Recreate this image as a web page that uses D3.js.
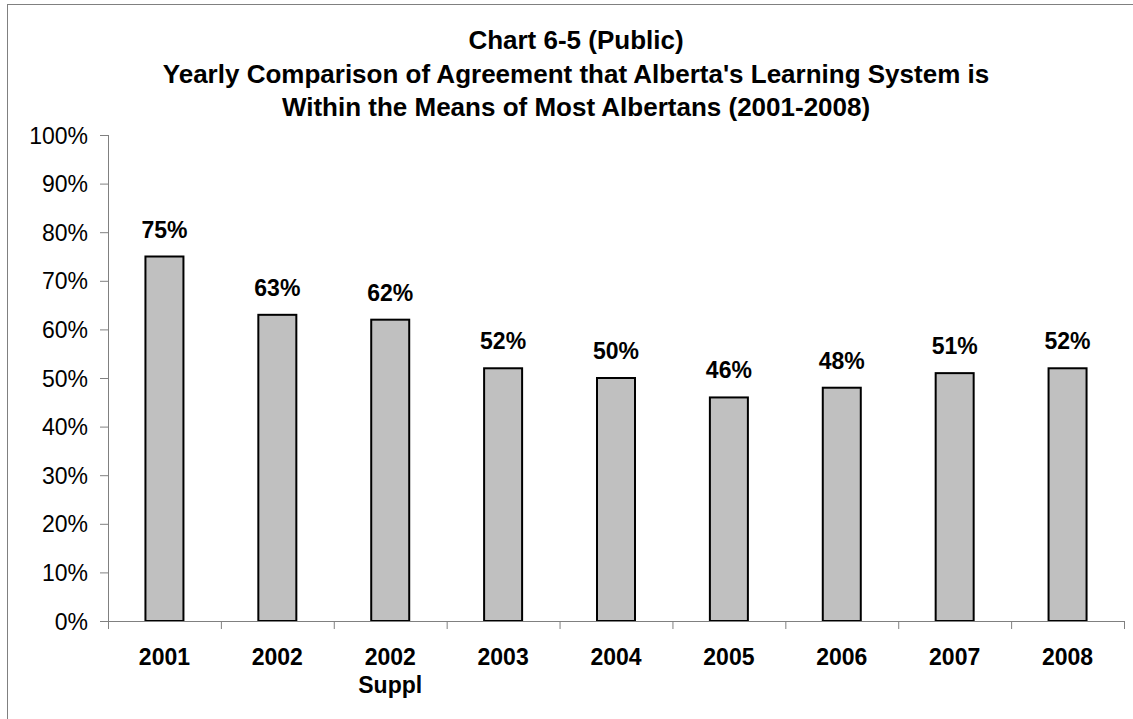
<!DOCTYPE html>
<html lang="en">
<head>
<meta charset="UTF-8">
<title>Chart 6-5 (Public)</title>
<script src="https://cdn.jsdelivr.net/npm/d3@7/dist/d3.min.js"></script>
<style>
  body { margin: 0; background: #fff; }
  svg { display: block; font-family: "Liberation Sans", Arial, sans-serif; }
</style>
</head>
<body>
<svg id="main" width="1133" height="719"></svg>
<script>
    // data
    const years = ["2001", "2002", "2002|Suppl", "2003", "2004", "2005", "2006", "2007", "2008"];
    const agree = [75, 63, 62, 52, 50, 46, 48, 51, 52];
    const yTicks = [0, 10, 20, 30, 40, 50, 60, 70, 80, 90, 100];
    const titleLines = [
        "Chart 6-5 (Public)",
        "Yearly Comparison of Agreement that Alberta's Learning System is",
        "Within the Means of Most Albertans (2001-2008)"
    ];

    const svg = d3.select("#main");
    const plotL = 108, plotR = 1124, plotT = 135, plotB = 621;

    // outer frame (runs off the right/bottom edge)
    svg.append("rect")
        .attr("x", 7.5).attr("y", 4.5)
        .attr("width", 1140).attr("height", 730)
        .attr("fill", "none").attr("stroke", "#808080").attr("stroke-width", 1);

    svg.append("g").selectAll("text")
        .data(titleLines)
        .join("text")
        .attr("x", 576)
        .attr("y", (d, i) => 49 + i * 33.5)
        .attr("text-anchor", "middle")
        .attr("font-size", 26)
        .attr("font-weight", "bold")
        .text(d => d);

    const x = d3.scaleBand().domain(years).range([plotL, plotR]).paddingInner(0).paddingOuter(0);
    const y = d3.scaleLinear().domain([0, 100]).range([plotB, plotT]);

    // y axis
    const yAxis = svg.append("g")
        .attr("transform", `translate(${plotL},0)`)
        .call(d3.axisLeft(y).tickValues(yTicks).tickSize(8).tickPadding(12).tickFormat(d => d + "%"));
    yAxis.select(".domain").attr("stroke", "#808080").attr("d", `M0.5,${plotT}V${plotB}`);
    yAxis.selectAll(".tick line").attr("stroke", "#808080");
    yAxis.selectAll(".tick text")
        .attr("font-size", 23).attr("font-family", "Liberation Sans, Arial, sans-serif")
        .attr("fill", "#000").attr("dy", "0.35em");

    // bars
    const bw = 38;
    svg.append("g").selectAll("rect")
        .data(agree)
        .join("rect")
        .attr("x", (d, i) => x(years[i]) + x.bandwidth() / 2 - bw / 2)
        .attr("y", d => y(d))
        .attr("width", bw)
        .attr("height", d => y(0) - y(d))
        .attr("fill", "#c0c0c0")
        .attr("stroke", "#000")
        .attr("stroke-width", 2);

    // value labels
    svg.append("g").selectAll("text")
        .data(agree)
        .join("text")
        .attr("x", (d, i) => x(years[i]) + x.bandwidth() / 2)
        .attr("y", d => y(d) - 19)
        .attr("text-anchor", "middle")
        .attr("font-size", 23)
        .attr("font-weight", "bold")
        .text(d => d + "%");

    // x axis line and category boundary ticks
    const xg = svg.append("g");
    xg.append("line")
        .attr("x1", plotL).attr("x2", plotR)
        .attr("y1", plotB + 0.5).attr("y2", plotB + 0.5)
        .attr("stroke", "#808080");
    xg.selectAll(".xt")
        .data(years.concat(["end"]))
        .join("line")
        .attr("class", "xt")
        .attr("x1", (d, i) => (i < years.length ? x(d) : plotR) + 0.5)
        .attr("x2", (d, i) => (i < years.length ? x(d) : plotR) + 0.5)
        .attr("y1", plotB).attr("y2", plotB + 8)
        .attr("stroke", "#808080");

    xg.selectAll(".xl")
        .data(years)
        .join("text")
        .attr("class", "xl")
        .attr("x", d => x(d) + x.bandwidth() / 2)
        .attr("y", 665)
        .attr("text-anchor", "middle")
        .attr("font-size", 23)
        .attr("font-weight", "bold")
        .selectAll("tspan")
        .data(d => d.split("|"))
        .join("tspan")
        .attr("x", function () { return d3.select(this.parentNode).attr("x"); })
        .attr("dy", (d, i) => i === 0 ? 0 : 28)
        .text(d => d);
</script>
</body>
</html>
